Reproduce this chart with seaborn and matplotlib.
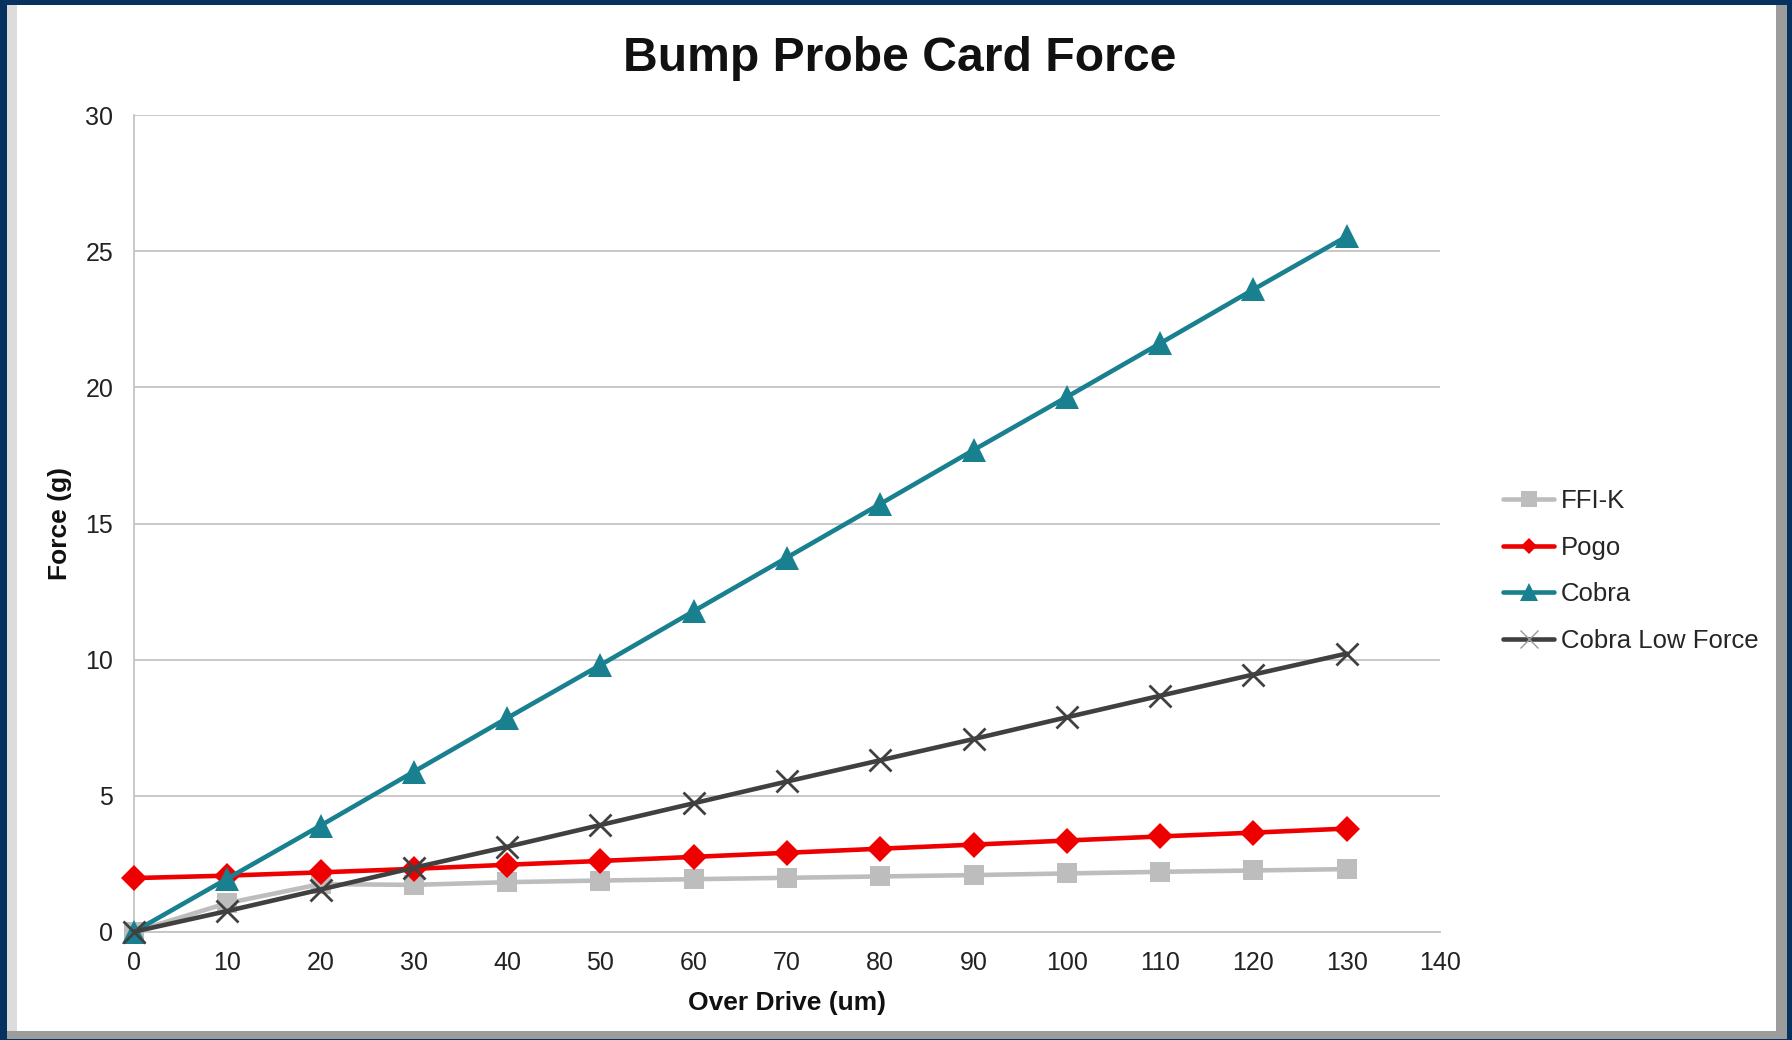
import numpy as np
import pandas as pd
import matplotlib
matplotlib.use("Agg")
import matplotlib.pyplot as plt
from matplotlib.patches import Rectangle
from matplotlib.lines import Line2D
import seaborn as sns

# ---- data ----
over_drive = [0, 10, 20, 30, 40, 50, 60, 70, 80, 90, 100, 110, 120, 130]
ffi_k = [0.0, 1.05, 1.75, 1.72, 1.82, 1.88, 1.93, 1.98, 2.03, 2.08, 2.14, 2.2, 2.25, 2.3]
pogo = [1.97, 2.06, 2.18, 2.31, 2.46, 2.6, 2.75, 2.9, 3.05, 3.2, 3.35, 3.5, 3.64, 3.79]
cobra = [0.0, 1.95, 3.9, 5.88, 7.85, 9.8, 11.78, 13.75, 15.72, 17.7, 19.65, 21.62, 23.6, 25.55]
cobra_low = [0.0, 0.76, 1.55, 2.35, 3.12, 3.92, 4.72, 5.52, 6.3, 7.08, 7.88, 8.67, 9.45, 10.22]

series_names = ["FFI-K", "Pogo", "Cobra", "Cobra Low Force"]
x_ticks = list(range(0, 141, 10))
y_ticks = list(range(0, 31, 5))

# ---- style ----
sns.set_theme(style="white")
plt.rcParams["font.family"] = ["Liberation Sans", "DejaVu Sans"]

W, H = 1792, 1040
fig = plt.figure(figsize=(W / 100, H / 100), dpi=100, facecolor="#07325f")

def px_rect(x0, y0, x1, y1, color, z):
    fig.add_artist(Rectangle((x0 / W, 1 - y1 / H), (x1 - x0) / W, (y1 - y0) / H,
                             transform=fig.transFigure, color=color, zorder=z, lw=0))

px_rect(7, 5, 1787, 1039, "#9c9c9c", -30)
px_rect(7, 5, 1776, 1031, "#dcdcdc", -29)
px_rect(17, 5, 1776, 1031, "#ffffff", -28)

ax = fig.add_axes([134 / W, 1 - 931.7 / H, (1440 - 134) / W, (931.7 - 115.3) / H])
ax.set_facecolor("none")

styles = {
    "FFI-K": dict(y=ffi_k, color="#bdbdbd", marker="s", ms=14.5, mew=0, lms=11, lmew=0, lmec="#bdbdbd"),
    "Pogo": dict(y=pogo, color="#ee0000", marker="D", ms=12.8, mew=0, lms=8.5, lmew=0, lmec="#ee0000"),
    "Cobra": dict(y=cobra, color="#18808f", marker="^", ms=17, mew=0, lms=13, lmew=0, lmec="#18808f"),
    "Cobra Low Force": dict(y=cobra_low, color="#404040", marker="x", ms=16, mew=2.0, lms=13, lmew=1.0, lmec="#9a9a9a"),
}

legend_handles = []
for i, name in enumerate(series_names):
    st = styles[name]
    sns.lineplot(x=over_drive, y=st["y"], ax=ax, color=st["color"], linewidth=3.3,
                 marker=st["marker"], markersize=st["ms"],
                 markeredgewidth=st["mew"], markeredgecolor=st["color"],
                 markerfacecolor=st["color"], clip_on=False, zorder=3 + i)
    legend_handles.append(Line2D([], [], color=st["color"], linewidth=3.3,
                                 marker=st["marker"], markersize=st["lms"],
                                 markeredgewidth=st["lmew"], markeredgecolor=st["lmec"],
                                 markerfacecolor=st["color"]))

ax.set_xlim(0, 140)
ax.set_ylim(0, 30)
ax.set_xticks(x_ticks)
ax.set_yticks(y_ticks)
ax.tick_params(axis="both", length=0, labelsize=18, labelcolor="#222222")
ax.tick_params(axis="x", pad=14)
ax.tick_params(axis="y", pad=15)
ax.grid(axis="y", color="#c4c4c4", linewidth=1.3)
ax.grid(axis="x", visible=False)
for side in ["top", "right"]:
    ax.spines[side].set_visible(False)
for side in ["left", "bottom"]:
    ax.spines[side].set_color("#c4c4c4")
    ax.spines[side].set_linewidth(1.3)

ax.set_xlabel("Over Drive (um)", fontsize=19, fontweight="bold", color="#111111", va="center")
ax.xaxis.set_label_coords(0.5, -0.087)
ax.set_ylabel("Force (g)", fontsize=19, fontweight="bold", color="#111111", va="center")
ax.yaxis.set_label_coords(-0.0565, 0.5)

fig.suptitle("Bump Probe Card Force", x=0.502, y=1 - 58.5 / H, va="center",
             fontsize=34.7, fontweight="bold", color="#111111")

fig.legend(legend_handles, series_names, loc="center left",
           bbox_to_anchor=(1503 / W, 1 - 571 / H),
           frameon=False, fontsize=18.5, handlelength=2.0, handletextpad=0.25,
           labelspacing=0.87, borderpad=0, borderaxespad=0)

fig.savefig("out.png", dpi=100, facecolor=fig.get_facecolor())
